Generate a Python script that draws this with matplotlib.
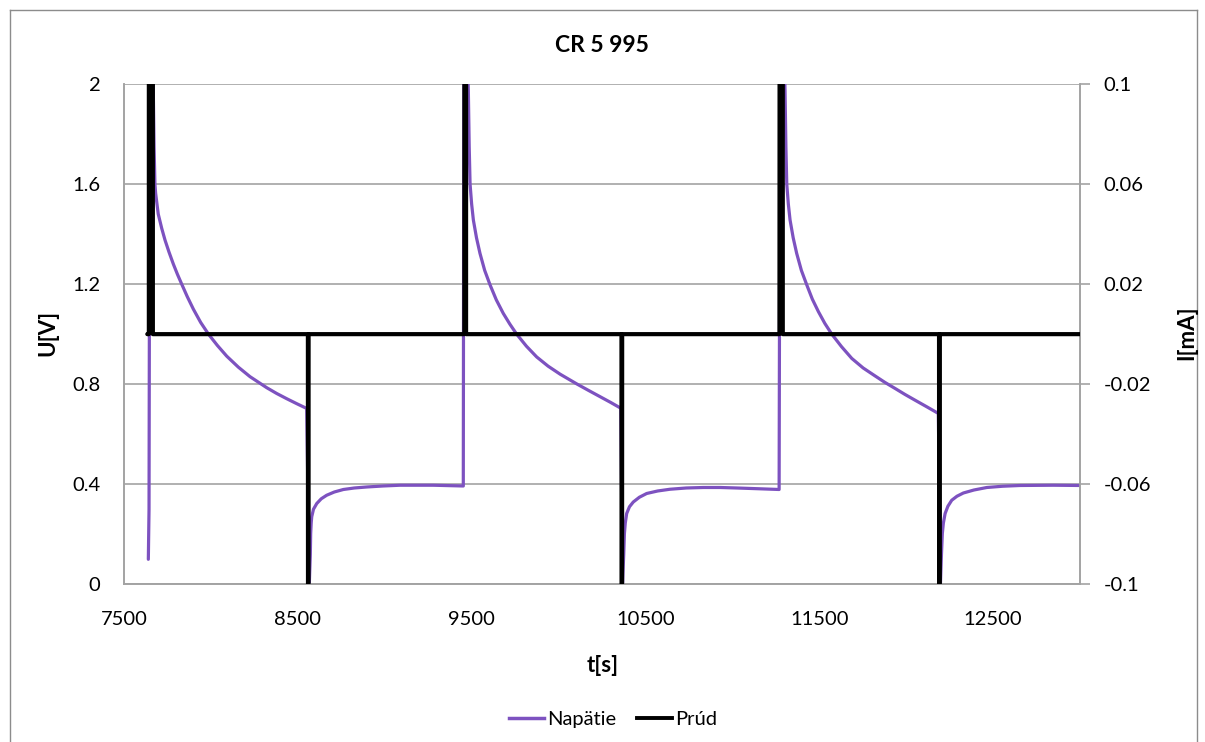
import matplotlib
matplotlib.use("Agg")
import matplotlib.pyplot as plt
from matplotlib.lines import Line2D

plt.rcParams['font.family'] = ['Lato', 'DejaVu Sans']

# Voltage samples U[V] versus time t[s]
voltage_t = [
    # first charge pulse and relaxation
    7640, 7644, 7650, 7668, 7673, 7678, 7682, 7697, 7717, 7736, 7759, 7784,
    7807, 7832, 7864, 7899, 7941, 7986, 8037, 8091, 8158, 8225, 8321, 8378,
    8436, 8494, 8551,
    # first discharge recovery
    8566, 8572, 8574, 8577, 8580, 8590, 8609, 8635, 8666, 8710, 8762, 8825,
    8896, 8990, 9088, 9280, 9452,
    # second charge pulse and relaxation
    9456, 9481, 9486, 9491, 9500, 9510, 9528, 9548, 9575, 9606, 9642, 9682,
    9720, 9759, 9815, 9874, 9940, 10009, 10105, 10170, 10239, 10300, 10358,
    # second discharge recovery
    10368, 10375, 10379, 10384, 10392, 10408, 10430, 10465, 10507, 10570,
    10641, 10735, 10833, 10930, 11025, 11150, 11269,
    # third charge pulse and relaxation
    11276, 11303, 11308, 11313, 11322, 11332, 11350, 11370, 11397, 11428,
    11460, 11495, 11532, 11572, 11628, 11687, 11752, 11821, 11878, 11936,
    11993, 12051, 12120, 12185,
    # third discharge recovery
    12197, 12203, 12208, 12214, 12224, 12240, 12262, 12292, 12329, 12390,
    12464, 12555, 12655, 12847, 13000,
]
voltage_U = [
    0.10, 0.30, 2.60, 2.00, 1.75, 1.60, 1.563, 1.48, 1.423, 1.376, 1.328, 1.280,
    1.240, 1.200, 1.150, 1.100, 1.047, 1.000, 0.955, 0.912, 0.868, 0.830, 0.786,
    0.763, 0.742, 0.722, 0.703,
    0.0, 0.12, 0.203, 0.245, 0.27, 0.30, 0.323, 0.342, 0.356, 0.369, 0.379, 0.385,
    0.389, 0.393, 0.396, 0.396, 0.393,
    2.60, 1.976, 1.75, 1.60, 1.52, 1.456, 1.385, 1.323, 1.255, 1.197, 1.137, 1.083,
    1.04, 1.00, 0.952, 0.909, 0.872, 0.840, 0.801, 0.776, 0.750, 0.727, 0.704,
    0.0, 0.12, 0.203, 0.245, 0.283, 0.31, 0.329, 0.348, 0.363, 0.373,
    0.380, 0.385, 0.387, 0.387, 0.385, 0.382, 0.379,
    2.60, 1.976, 1.75, 1.60, 1.52, 1.456, 1.385, 1.323, 1.255, 1.197,
    1.14, 1.09, 1.043, 1.00, 0.95, 0.903, 0.865, 0.833, 0.807, 0.783,
    0.759, 0.736, 0.709, 0.683,
    0.0, 0.12, 0.203, 0.245, 0.283, 0.312, 0.336, 0.352, 0.365, 0.377,
    0.387, 0.392, 0.395, 0.396, 0.395,
]

# Current samples I[mA] versus time t[s]
current_t = [7634, 7643, 7643, 7666, 7666, 8558, 8560, 8562, 9458, 9460, 9468,
             9468, 10362, 10364, 10366, 11271, 11273, 11290, 11290, 12189,
             12191, 12193, 13000]
current_I = [0.0, 0.0, 0.35, 0.35, 0.0, 0.0, -0.35, 0.0, 0.0, 0.35, 0.35,
             0.0, 0.0, -0.35, 0.0, 0.0, 0.35, 0.35, 0.0, 0.0, -0.35, 0.0, 0.0]

u_ticks = [0, 0.4, 0.8, 1.2, 1.6, 2]
u_tick_labels = ['0', '0.4', '0.8', '1.2', '1.6', '2']
i_ticks = [-0.1, -0.06, -0.02, 0.02, 0.06, 0.1]
i_tick_labels = ['-0.1', '-0.06', '-0.02', '0.02', '0.06', '0.1']
t_ticks = [7500, 8500, 9500, 10500, 11500, 12500]

PURPLE = '#7D52C0'
GRID = '#A3A3A3'
W, H = 1205, 742

fig = plt.figure(figsize=(W / 100, H / 100), dpi=100)
ax = fig.add_axes([124 / W, 1 - 584.3 / H, (1080 - 124) / W, (584.3 - 84) / H])
ax2 = ax.twinx()

ax.plot(voltage_t, voltage_U, color=PURPLE, lw=2.3,
        solid_joinstyle='round', solid_capstyle='round', zorder=3)
ax2.plot(current_t, current_I, color='black', lw=3.0,
         solid_joinstyle='round', solid_capstyle='round', zorder=3)

ax.set_xlim(7500, 13000)
ax.set_ylim(0, 2)
ax2.set_ylim(-0.1, 0.1)

ax.set_xticks(t_ticks)
ax.set_xticklabels([str(t) for t in t_ticks])
ax.set_yticks(u_ticks)
ax.set_yticklabels(u_tick_labels)
ax2.set_yticks(i_ticks)
ax2.set_yticklabels(i_tick_labels)

ax.grid(axis='y', color=GRID, lw=1.2)
ax.set_axisbelow(True)
for a in (ax, ax2):
    for s in a.spines.values():
        s.set_color(GRID)
        s.set_linewidth(1.2)
    a.spines['top'].set_visible(False)

ax.tick_params(axis='x', length=0, pad=19, labelsize=14.5)
ax.tick_params(axis='y', length=0, pad=17, labelsize=14.5)
ax2.tick_params(axis='y', length=7, width=1.2, color=GRID, pad=10, labelsize=14.5)

fig.text(602 / W, 1 - 45 / H, 'CR 5 995', ha='center', va='center',
         fontsize=16.5, fontweight='bold')
fig.text(48 / W, 1 - 333 / H, 'U[V]', ha='center', va='center',
         rotation=90, fontsize=16, fontweight='bold')
fig.text(1187 / W, 1 - 333 / H, 'I[mA]', ha='center', va='center',
         rotation=90, fontsize=16, fontweight='bold')
fig.text(603 / W, 1 - 665 / H, 't[s]', ha='center', va='center',
         fontsize=16, fontweight='bold')

handles = [Line2D([], [], color=PURPLE, lw=2.5),
           Line2D([], [], color='black', lw=2.8)]
fig.legend(handles, ['Napätie', 'Prúd'], loc='center',
           bbox_to_anchor=(613 / W, 1 - 719 / H), ncol=2, frameon=False,
           fontsize=14.5, handlelength=1.75, handletextpad=0.15,
           columnspacing=1.0)

# chart area border
border = dict(color='#8C8C8C', lw=1.0, transform=fig.transFigure)
fig.add_artist(Line2D([10 / W, 10 / W], [0, 1 - 10 / H], **border))
fig.add_artist(Line2D([10 / W, 1197 / W], [1 - 10 / H, 1 - 10 / H], **border))
fig.add_artist(Line2D([1197 / W, 1197 / W], [0, 1 - 10 / H], **border))

fig.savefig('out.png', dpi=100)
